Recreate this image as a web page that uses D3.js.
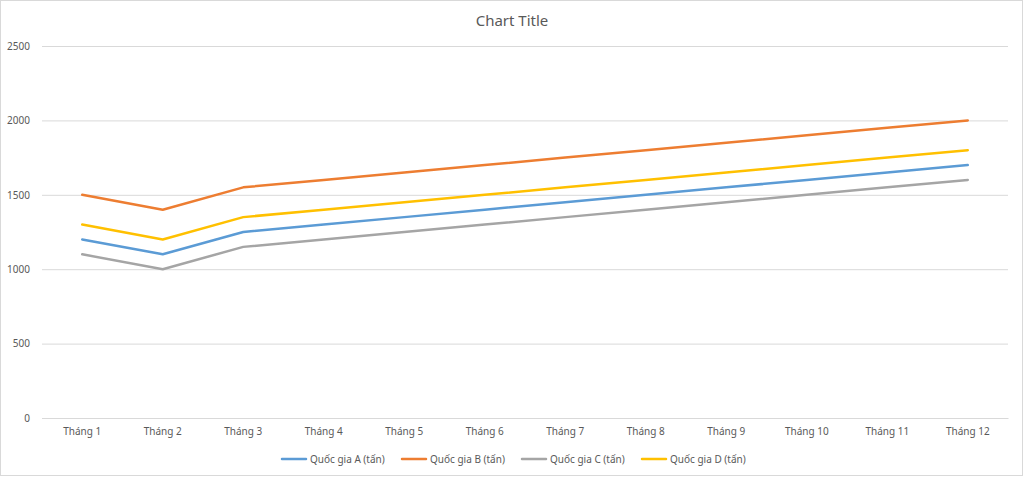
<!DOCTYPE html>
<html><head><meta charset="utf-8">
<script src="https://cdn.jsdelivr.net/npm/d3@7"></script>
<style>body{margin:0;background:#fff}svg{display:block}text{font-family:"Noto Sans","Open Sans",sans-serif}</style>
</head><body>
<svg id="c" width="1024" height="477"></svg>
<script>
const categories = ["Tháng 1","Tháng 2","Tháng 3","Tháng 4","Tháng 5","Tháng 6","Tháng 7","Tháng 8","Tháng 9","Tháng 10","Tháng 11","Tháng 12"];
const seriesNames = ["Quốc gia A (tấn)","Quốc gia B (tấn)","Quốc gia C (tấn)","Quốc gia D (tấn)"];
const valuesA = [1200,1100,1250,1300,1350,1400,1450,1500,1550,1600,1650,1700];
const valuesB = [1500,1400,1550,1600,1650,1700,1750,1800,1850,1900,1950,2000];
const valuesC = [1100,1000,1150,1200,1250,1300,1350,1400,1450,1500,1550,1600];
const valuesD = [1300,1200,1350,1400,1450,1500,1550,1600,1650,1700,1750,1800];
const yTicks = [0,500,1000,1500,2000,2500];
const colors = ["#5B9BD5","#ED7D31","#A5A5A5","#FFC000"];
const series = [valuesA,valuesB,valuesC,valuesD];

const svg = d3.select("#c");
svg.append("rect").attr("x",0.5).attr("y",0.5).attr("width",1022).attr("height",475)
  .attr("fill","#fff").attr("stroke","#d9d9d9");

const x = d3.scaleBand().domain(categories).range([42,1008]);
const y = d3.scaleLinear().domain([0,2500]).range([418,46]);

svg.append("text").attr("x",512).attr("y",26).attr("text-anchor","middle")
  .attr("font-size",15).attr("fill","#595959").text("Chart Title");

const gy = svg.append("g").attr("transform","translate(42,0)")
  .call(d3.axisLeft(y).tickValues(yTicks).tickSize(-966).tickPadding(12).tickFormat(d3.format("d")));
gy.select(".domain").remove();
gy.selectAll("line").attr("stroke","#d9d9d9");
gy.selectAll("text").attr("fill","#595959").attr("font-size",10);

const gx = svg.append("g").attr("transform","translate(0,418)")
  .call(d3.axisBottom(x).tickSize(0).tickPadding(10));
gx.select(".domain").attr("stroke","#d9d9d9");
gx.selectAll("text").attr("fill","#595959").attr("font-size",10);

const line = d3.line().x((d,i)=>x(categories[i])+x.bandwidth()/2).y(d=>y(d));
series.forEach((s,k)=>{
  svg.append("path").datum(s).attr("d",line).attr("fill","none")
    .attr("stroke",colors[k]).attr("stroke-width",2.5).attr("stroke-linecap","round").attr("stroke-linejoin","round");
});

const lg = svg.append("g");
seriesNames.forEach((n,k)=>{
  const lx = 282 + k*120;
  lg.append("line").attr("x1",lx).attr("x2",lx+24).attr("y1",459).attr("y2",459)
    .attr("stroke",colors[k]).attr("stroke-width",2.5).attr("stroke-linecap","round");
  lg.append("text").attr("x",lx+28).attr("y",462.5).attr("font-size",10).attr("fill","#595959").text(n);
});
</script>
</body></html>
